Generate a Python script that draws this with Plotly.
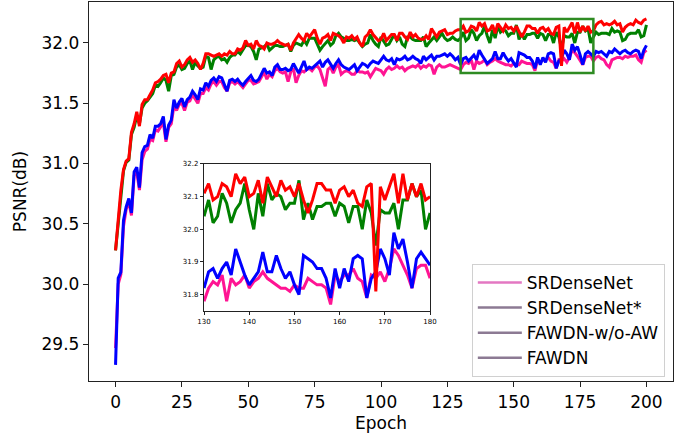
import plotly.graph_objects as go

epochs = list(range(201))

fawdn = [
30.28,30.53,30.78,30.95,31.02,31.04,31.26,31.33,31.43,31.31,31.49,31.53,31.53,31.57,31.61,31.67,31.68,31.70,31.73,31.74,
31.67,31.75,31.76,31.83,31.85,31.80,31.82,31.86,31.88,31.84,31.86,31.83,31.78,31.83,31.91,31.91,31.90,31.89,31.90,31.91,
31.89,31.91,31.90,31.93,31.91,31.91,31.95,31.94,31.96,32.02,31.98,31.99,31.95,32.02,31.98,31.97,31.95,32.00,31.99,31.99,
32.00,32.02,32.00,31.99,31.98,31.99,31.94,32.00,32.03,32.07,32.04,32.02,32.08,32.05,32.08,32.11,32.04,31.99,32.04,32.05,
32.07,32.02,32.08,32.07,32.06,32.04,32.00,32.05,32.04,32.06,32.03,32.05,32.00,31.97,32.05,32.07,32.11,32.07,32.04,32.02,
32.03,32.08,32.02,32.05,32.07,32.07,32.02,32.08,32.08,32.05,32.03,32.09,32.05,32.07,32.04,32.03,32.03,32.06,32.03,32.12,
32.08,32.05,32.09,32.10,32.11,32.07,32.08,32.08,32.10,32.11,
32.11,32.14,32.09,32.10,32.14,32.13,32.10,32.17,32.14,32.16,32.10,32.11,32.15,32.08,32.16,32.13,32.10,32.15,32.12,32.13,
32.10,32.14,32.09,32.05,32.09,32.14,32.14,32.12,32.12,32.08,32.12,32.13,32.10,32.12,32.08,32.07,32.13,32.14,31.81,32.13,
32.09,32.13,32.17,32.08,32.17,32.09,32.14,32.10,32.14,32.09,32.10,
32.15,32.17,32.18,32.15,32.16,32.15,32.16,32.18,32.15,32.16,32.09,32.13,32.15,32.16,32.15,32.19,32.17,32.16,32.19,32.20]

fawdn_wo_aw = [
30.28,30.52,30.76,30.94,31.01,31.03,31.24,31.30,31.40,31.33,31.46,31.50,31.52,31.55,31.58,31.65,31.64,31.67,31.71,31.69,
31.60,31.73,31.74,31.80,31.82,31.78,31.79,31.83,31.85,31.78,31.84,31.81,31.79,31.80,31.89,31.88,31.78,31.86,31.88,31.89,
31.86,31.87,31.84,31.88,31.90,31.90,31.93,31.91,31.95,31.98,31.98,31.97,31.93,31.86,31.95,31.96,31.97,31.99,31.94,31.96,
31.98,31.98,31.97,31.97,31.98,31.99,31.93,31.98,32.00,31.99,31.98,32.02,31.99,32.04,32.04,32.04,31.99,31.94,31.97,32.00,
32.02,31.98,32.00,32.06,32.08,32.05,32.04,32.02,32.02,32.03,32.02,32.03,32.00,31.97,31.99,32.00,32.07,32.02,31.99,31.97,
32.05,32.02,31.98,31.99,32.03,32.07,32.02,32.05,31.99,31.97,32.05,32.05,32.03,32.02,32.02,32.02,32.05,31.97,32.00,32.03,
32.05,32.02,32.05,32.08,32.04,32.02,32.03,32.05,32.03,32.02,
32.04,32.09,32.02,32.04,32.11,32.08,32.02,32.06,32.08,32.14,32.06,32.00,32.11,32.04,32.14,32.09,32.11,32.10,32.06,32.08,
32.08,32.15,32.03,32.08,32.03,32.07,32.07,32.08,32.08,32.04,32.08,32.07,32.02,32.07,32.07,32.00,32.09,32.05,31.95,32.06,
32.05,32.05,32.08,32.00,32.09,32.09,32.14,32.10,32.12,32.00,32.05,
32.09,32.07,32.08,32.08,32.08,32.07,32.12,32.09,32.10,32.09,32.02,32.03,32.07,32.08,32.08,32.08,32.11,32.05,32.06,32.15]

srdensenet_star = [
29.33,30.05,30.10,30.53,30.64,30.71,30.59,30.93,30.97,30.80,31.09,31.14,31.15,31.24,31.21,31.31,31.31,31.33,31.39,31.20,
31.32,31.36,31.53,31.46,31.51,31.54,31.47,31.53,31.55,31.60,31.57,31.53,31.62,31.61,31.67,31.64,31.69,31.71,31.68,31.72,
31.71,31.65,31.60,31.69,31.70,31.68,31.70,31.67,31.65,31.68,31.71,31.73,31.69,31.68,31.70,31.74,31.79,31.75,31.76,31.73,
31.80,31.82,31.78,31.78,31.79,31.77,31.78,31.83,31.79,31.75,31.80,31.85,31.78,31.80,31.79,31.81,31.83,31.85,31.80,31.84,
31.86,31.82,31.79,31.83,31.86,31.82,31.80,31.79,31.78,31.80,31.82,31.77,31.80,31.83,31.82,31.80,31.83,31.85,31.84,31.83,
31.86,31.89,31.86,31.85,31.87,31.82,31.87,31.86,31.87,31.89,31.86,31.87,31.89,31.87,31.86,31.83,31.89,31.86,31.88,31.90,
31.86,31.89,31.89,31.90,31.91,31.89,31.91,31.89,31.86,31.88,
31.82,31.87,31.88,31.85,31.88,31.90,31.86,31.94,31.90,31.86,31.83,31.85,31.87,31.93,31.87,31.87,31.92,31.88,31.85,31.87,
31.83,31.80,31.92,31.91,31.90,31.88,31.88,31.85,31.79,31.88,31.82,31.88,31.84,31.91,31.92,31.91,31.79,31.85,31.87,31.94,
31.91,31.86,31.99,31.94,31.97,31.90,31.82,31.91,31.93,31.91,31.89,
31.93,31.92,31.93,31.91,31.89,31.93,31.92,31.95,31.93,31.91,31.93,31.94,31.92,31.91,31.93,31.94,31.93,31.87,31.94,31.98]

srdensenet = [
29.47,30.00,30.08,30.48,30.62,30.68,30.57,30.90,30.93,30.78,31.03,31.10,31.12,31.20,31.19,31.28,31.27,31.31,31.34,31.18,
31.30,31.33,31.48,31.44,31.49,31.50,31.44,31.51,31.52,31.57,31.53,31.50,31.58,31.58,31.63,31.61,31.66,31.68,31.65,31.68,
31.68,31.63,31.60,31.67,31.68,31.66,31.68,31.65,31.63,31.66,31.69,31.69,31.66,31.67,31.68,31.72,31.76,31.70,31.74,31.72,
31.77,31.79,31.76,31.75,31.76,31.68,31.76,31.79,31.67,31.73,31.77,31.76,31.78,31.79,31.77,31.80,31.81,31.78,31.70,31.64,
31.78,31.80,31.75,31.80,31.82,31.74,31.76,31.77,31.76,31.74,31.74,31.77,31.76,31.76,31.75,31.76,31.72,31.76,31.79,31.78,
31.77,31.74,31.78,31.80,31.78,31.79,31.81,31.79,31.80,31.77,31.79,31.80,31.81,31.80,31.82,31.79,31.81,31.80,31.82,31.81,
31.74,31.80,31.82,31.80,31.80,31.81,31.82,31.81,31.80,31.79,
31.78,31.82,31.84,31.83,31.86,31.78,31.85,31.83,31.84,31.86,31.82,31.84,31.85,31.87,31.85,31.84,31.83,31.82,31.82,31.81,
31.83,31.82,31.82,31.85,31.84,31.83,31.83,31.82,31.77,31.86,31.84,31.86,31.86,31.88,31.85,31.84,31.79,31.86,31.85,31.87,
31.84,31.88,31.94,31.92,31.89,31.86,31.82,31.88,31.89,31.89,31.85,
31.88,31.89,31.87,31.86,31.82,31.80,31.86,31.87,31.88,31.88,31.87,31.89,31.88,31.89,31.89,31.90,31.86,31.84,31.92,31.94]

series_names = ["SRDenseNet", "SRDenseNet*", "FAWDN-w/o-AW", "FAWDN"]
series_values = [srdensenet, srdensenet_star, fawdn_wo_aw, fawdn]
line_colors = ["#ff1493", "#0000ff", "#008000", "#ff0000"]
legend_colors = ["#e377c2", "#8c7a93", "#8c7a93", "#8c7a93"]

main_xticks = [0, 25, 50, 75, 100, 125, 150, 175, 200]
main_yticks = [29.5, 30.0, 30.5, 31.0, 31.5, 32.0]
inset_xrange = [130, 180]
inset_yrange = [31.75, 32.2]
inset_xticks = [130, 140, 150, 160, 170, 180]
inset_yticks = [31.8, 31.9, 32.0, 32.1, 32.2]

fig = go.Figure()

for name, vals, col in zip(series_names, series_values, line_colors):
    fig.add_trace(go.Scatter(x=epochs, y=vals, mode="lines", line=dict(color=col, width=3),
                             showlegend=False, xaxis="x", yaxis="y"))

for name, vals, col in zip(series_names, series_values, line_colors):
    xs = [e for e in epochs if inset_xrange[0] <= e <= inset_xrange[1]]
    ys = [v for e, v in zip(epochs, vals) if inset_xrange[0] <= e <= inset_xrange[1]]
    fig.add_trace(go.Scatter(x=xs, y=ys, mode="lines", line=dict(color=col, width=3),
                             showlegend=False, xaxis="x2", yaxis="y2"))

for i, (name, col) in enumerate(zip(series_names, legend_colors)):
    fig.add_trace(go.Scatter(x=[None], y=[None], mode="lines", name=name,
                             line=dict(color=col, width=2.5), legendgroup=str(i),
                             xaxis="x", yaxis="y"))

fig.add_shape(type="rect", xref="x", yref="y",
              x0=inset_xrange[0], x1=inset_xrange[1], y0=inset_yrange[0], y1=inset_yrange[1],
              line=dict(color="#2e8b22", width=2.5), fillcolor="rgba(0,0,0,0)")

axis_common = dict(showline=True, linecolor="#222", linewidth=1.4, mirror=True, automargin=False,
                   ticks="outside", tickcolor="#222", showgrid=False, zeroline=False)

fig.update_layout(
    width=688, height=439,
    margin=dict(l=89, r=15, t=2, b=58),
    paper_bgcolor="white", plot_bgcolor="white",
    font=dict(family="DejaVu Sans", size=17, color="black"),
    xaxis=dict(range=[-10, 210], tickvals=main_xticks, ticklen=5,
               title=dict(text="Epoch", standoff=6, font=dict(size=17)),
               domain=[0, 1], **axis_common),
    yaxis=dict(range=[29.196, 32.34], tickvals=main_yticks, tickformat=".1f", ticklen=5,
               title=dict(text="PSNR(dB)", standoff=10, font=dict(size=17)),
               domain=[0, 1], **axis_common),
    xaxis2=dict(range=inset_xrange, tickvals=inset_xticks, ticklen=3, anchor="y2",
                domain=[0.197, 0.584], tickfont=dict(size=7), **axis_common),
    yaxis2=dict(range=inset_yrange, tickvals=inset_yticks, tickformat=".1f", ticklen=3, anchor="x2",
                domain=[0.1847, 0.5726], tickfont=dict(size=7), **axis_common),
    legend=dict(x=0.986, y=0.309, xanchor="right", yanchor="top",
                bgcolor="rgba(255,255,255,0.9)", bordercolor="#d0d0d0", borderwidth=1,
                font=dict(size=17), tracegroupgap=0, itemwidth=44),
)

fig.add_shape(type="rect", xref="x2 domain", yref="y2 domain", x0=0, x1=1, y0=0, y1=1,
              fillcolor="white", line=dict(width=0), layer="below")

fig.write_html("out.html", config={"displayModeBar": False},
               post_script="document.body.style.margin='0';document.body.style.padding='0';")
